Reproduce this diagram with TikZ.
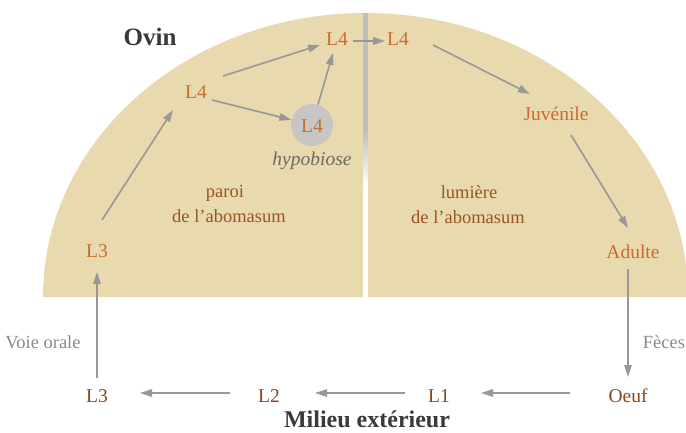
\documentclass[tikz,border=0pt]{standalone}
\usepackage{fontspec}
\setmainfont{Liberation Serif}
\usetikzlibrary{arrows.meta,calc}
\definecolor{beige}{HTML}{E9D9AE}
\definecolor{orng}{HTML}{CC6A2C}
\definecolor{brwn}{HTML}{9A5524}
\definecolor{dbrwn}{HTML}{8A4518}
\definecolor{arrg}{HTML}{989898}
\definecolor{divg}{HTML}{BEBEBE}
\definecolor{circg}{HTML}{C7C6C5}
\definecolor{txtg}{HTML}{8E8884}
\definecolor{hypg}{HTML}{6E6A68}
\definecolor{darkt}{HTML}{3A3A3A}
\tikzset{
  lbl/.style={anchor=base,inner sep=0pt,font=\fontsize{19.5}{22}\selectfont},
  stage/.style={lbl,text=orng},
  ext/.style={lbl,text=dbrwn},
  zone/.style={anchor=base,inner sep=0pt,text=brwn,font=\fontsize{18.5}{21}\selectfont},
  side/.style={anchor=base,inner sep=0pt,text=txtg,font=\fontsize{18.5}{21}\selectfont},
  ttl/.style={anchor=base,inner sep=0pt,text=darkt,font=\fontsize{25}{28}\selectfont\bfseries},
  conn/.style={draw=arrg,line width=1.6pt,-{Triangle[length=12pt,width=7.5pt]}}
}
\begin{document}
\begin{tikzpicture}[x=1pt,y=-1pt]
\useasboundingbox (0,0) rectangle (686,432);
% half ellipse
\fill[beige] (43,297) arc[start angle=180,end angle=0,x radius=322.5pt,y radius=284pt] -- cycle;
% divider
\fill[white] (362.7,10) rectangle (368.3,298);
\fill[divg] (362.7,13) rectangle (368.3,130.5);
\foreach \k in {0,...,24}{
  \pgfmathsetmacro{\pc}{100-4*\k}
  \fill[divg!\pc!white] (362.7,{130+2.2*\k}) rectangle (368.3,{132.4+2.2*\k});
}
% circle
\node[circle,fill=circg,minimum size=42pt,inner sep=0pt] (circ) at (312,125) {};
% labels
\node[ttl] (ovin) at (150,45) {Ovin};
\node[stage] (l4l) at (196,98) {L4};
\node[stage] (l4t) at (337,45) {L4};
\node[stage] (l4r) at (398,45) {L4};
\node[stage] (l4c) at (312,132) {L4};
\node[lbl,text=hypg,font=\fontsize{19.5}{22}\selectfont\itshape] (hyp) at (312,165) {hypobiose};
\node[stage] (juv) at (556,120) {Juvénile};
\node[stage] (adu) at (633,258) {Adulte};
\node[stage] (l3u) at (97,257) {L3};
\node[zone] (par1) at (225,197) {paroi};
\node[zone] (par2) at (229,222) {de l’abomasum};
\node[zone] (lum1) at (469,198) {lumière};
\node[zone] (lum2) at (468,223) {de l’abomasum};
\node[side] (voie) at (43,348) {Voie orale};
\node[side] (fec) at (664,348) {Fèces};
\node[ext] (l3b) at (97,402) {L3};
\node[ext] (l2) at (269,402) {L2};
\node[ext] (l1) at (439,402) {L1};
\node[ext] (oeuf) at (628,402) {Oeuf};
\node[ttl,font=\fontsize{24}{28}\selectfont\bfseries] (mil) at (367,427.5) {Milieu extérieur};
% connectors
\draw[conn] ([shift={(0,-24)}]l3b.base) -- ([shift={(0,15)}]l3u.base);
\draw[conn] ([shift={(5,-37)}]l3u.base) -- ([shift={(-23,12)}]l4l.base);
\draw[conn] ([shift={(27,-22)}]l4l.base) -- ([shift={(-17,0)}]l4t.base);
\draw[conn] ([shift={(16,2)}]l4l.base) -- (circ);
\draw[conn] (circ) -- ([shift={(-4,8)}]l4t.base);
\draw[conn] ([shift={(16,-4)}]l4t.base) -- ([shift={(-13,-4)}]l4r.base);
\draw[conn] ([shift={(35,0)}]l4r.base) -- ([shift={(-26,-26)}]juv.base);
\draw[conn] ([shift={(15,15)}]juv.base) -- ([shift={(-5,-30)}]adu.base);
\draw[conn] ([shift={(-5,11)}]adu.base) -- ([shift={(0,-25)}]oeuf.base);
\draw[conn] ([shift={(-58,-9)}]oeuf.base) -- ([shift={(42,-9)}]l1.base);
\draw[conn] ([shift={(-34,-9)}]l1.base) -- ([shift={(46,-9)}]l2.base);
\draw[conn] ([shift={(-39,-9)}]l2.base) -- ([shift={(43,-9)}]l3b.base);
\end{tikzpicture}
\end{document}
